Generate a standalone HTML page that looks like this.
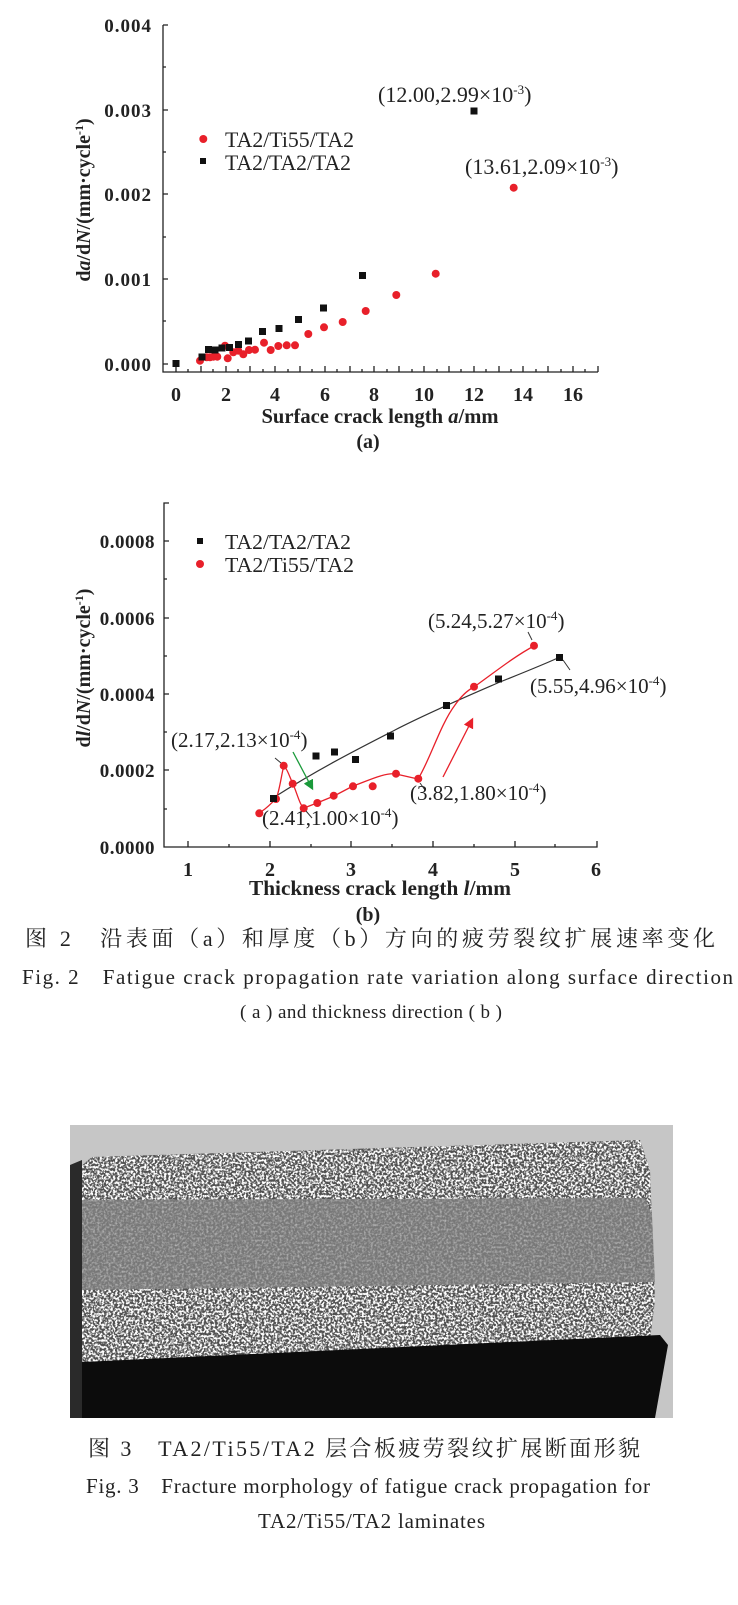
<!DOCTYPE html>
<html><head><meta charset="utf-8"><style>
html,body{margin:0;padding:0;background:#fff;}
body{width:738px;height:1605px;position:relative;overflow:hidden;}
svg{position:absolute;left:0;top:0;}
</style></head><body>
<svg width="738" height="1605" viewBox="0 0 738 1605" font-family="Liberation Serif, serif">
<defs>
<filter id="spk" x="0" y="0" width="100%" height="100%">
<feTurbulence type="fractalNoise" baseFrequency="0.45" numOctaves="2" seed="3"/>
<feColorMatrix type="matrix" values="0 0 0 0 1  0 0 0 0 1  0 0 0 0 1  0 0 0 -5 2.9"/>
<feComposite in2="SourceGraphic" operator="in"/>
</filter>
<filter id="spk2" x="0" y="0" width="100%" height="100%">
<feTurbulence type="fractalNoise" baseFrequency="0.45" numOctaves="2" seed="7"/>
<feColorMatrix type="matrix" values="0 0 0 0 1  0 0 0 0 1  0 0 0 0 1  0 0 0 -2 1.2"/>
<feComposite in2="SourceGraphic" operator="in"/>
</filter>
<marker id="ag" markerWidth="8" markerHeight="8" refX="6" refY="4" orient="auto"><path d="M0,0 L8,4 L0,8 z" fill="#1a9a3a"/></marker>
<marker id="ar" markerWidth="8" markerHeight="8" refX="6" refY="4" orient="auto"><path d="M0,0 L8,4 L0,8 z" fill="#e8202a"/></marker>
</defs>
<!-- Chart a -->
<g stroke="#222" stroke-width="1.3" fill="none">
<path d="M163,25 V372 H598"/>
<path d="M163,25 h5 M163,67 h3 M163,110 h5 M163,152 h3 M163,194 h5 M163,237 h3 M163,279 h5 M163,321 h3 M163,364 h5"/>
<path d="M176,372 v-6 M188,372 v-3 M201,372 v-6 M213,372 v-3 M226,372 v-6 M238,372 v-3 M250,372 v-6 M263,372 v-3 M275,372 v-6 M288,372 v-3 M300,372 v-6 M312,372 v-3 M325,372 v-6 M337,372 v-3 M350,372 v-6 M362,372 v-3 M374,372 v-6 M387,372 v-3 M399,372 v-6 M412,372 v-3 M424,372 v-6 M437,372 v-3 M449,372 v-6 M461,372 v-3 M474,372 v-6 M486,372 v-3 M499,372 v-6 M511,372 v-3 M523,372 v-6 M536,372 v-3 M548,372 v-6 M561,372 v-3 M573,372 v-6 M585,372 v-3 M598,372 v-6"/>
</g>
<g font-size="19" font-weight="bold" fill="#222" text-anchor="end" letter-spacing="1">
<text x="152" y="32">0.004</text><text x="152" y="117">0.003</text><text x="152" y="201">0.002</text><text x="152" y="286">0.001</text><text x="152" y="371">0.000</text>
</g>
<g font-size="20" font-weight="bold" fill="#222" text-anchor="middle">
<text x="176" y="401">0</text><text x="226" y="401">2</text><text x="275" y="401">4</text><text x="325" y="401">6</text><text x="374" y="401">8</text><text x="424" y="401">10</text><text x="474" y="401">12</text><text x="523" y="401">14</text><text x="573" y="401">16</text>
<text x="380" y="423" font-size="21" textLength="237" lengthAdjust="spacingAndGlyphs">Surface crack length <tspan font-style="italic">a</tspan>/mm</text>
<text x="368" y="448">(a)</text>
</g>
<text transform="translate(90,200) rotate(-90)" font-size="20" font-weight="bold" fill="#222" text-anchor="middle">d<tspan font-style="italic">a</tspan>/d<tspan font-style="italic">N</tspan>/(mm·cycle<tspan font-size="12" dy="-7">-1</tspan><tspan dy="7">)</tspan></text>
<g fill="#e8202a">
<circle cx="200" cy="360.7" r="4"/><circle cx="206.7" cy="357.3" r="4"/><circle cx="210" cy="357.3" r="4"/><circle cx="213.3" cy="356.7" r="4"/><circle cx="217.3" cy="356.7" r="4"/><circle cx="225" cy="345.7" r="4"/><circle cx="227.7" cy="358.3" r="4"/><circle cx="233.3" cy="352.3" r="4"/><circle cx="238.3" cy="350.7" r="4"/><circle cx="243.3" cy="354.3" r="4"/><circle cx="249" cy="350" r="4"/><circle cx="255" cy="349.7" r="4"/><circle cx="264" cy="342.7" r="4"/><circle cx="270.7" cy="350" r="4"/><circle cx="278.3" cy="346" r="4"/><circle cx="286.7" cy="345.3" r="4"/><circle cx="295" cy="345.3" r="4"/><circle cx="308.3" cy="334" r="4"/><circle cx="324" cy="327.3" r="4"/><circle cx="342.7" cy="322" r="4"/><circle cx="365.7" cy="311" r="4"/><circle cx="396.3" cy="295" r="4"/><circle cx="435.7" cy="273.7" r="4"/><circle cx="513.7" cy="187.7" r="4"/>
<circle cx="203.3" cy="139" r="4"/>
</g>
<g fill="#111">
<rect x="172.5" y="360" width="7" height="7"/><rect x="198.5" y="353.5" width="7" height="7"/><rect x="205" y="346" width="7" height="7"/><rect x="211.5" y="346.5" width="7" height="7"/><rect x="218.5" y="344.5" width="7" height="7"/><rect x="226" y="344" width="7" height="7"/><rect x="235" y="341" width="7" height="7"/><rect x="245" y="337.5" width="7" height="7"/><rect x="259" y="328" width="7" height="7"/><rect x="275.5" y="325" width="7" height="7"/><rect x="295" y="316" width="7" height="7"/><rect x="320" y="304.5" width="7" height="7"/><rect x="359" y="272" width="7" height="7"/><rect x="470.5" y="107.5" width="7" height="7"/>
<rect x="200" y="158" width="6" height="6"/>
</g>
<g font-size="22" fill="#222">
<text x="225" y="147" textLength="129" lengthAdjust="spacingAndGlyphs">TA2/Ti55/TA2</text><text x="225" y="170" textLength="126" lengthAdjust="spacingAndGlyphs">TA2/TA2/TA2</text>
<text x="378" y="102">(12.00,2.99×10<tspan font-size="13" dy="-8">-3</tspan><tspan dy="8">)</tspan></text>
<text x="465" y="174">(13.61,2.09×10<tspan font-size="13" dy="-8">-3</tspan><tspan dy="8">)</tspan></text>
</g>
<!-- Chart b -->
<g stroke="#222" stroke-width="1.3" fill="none">
<path d="M169,503 h-5 V847 H597 v-6"/>
<path d="M164,541 h5 M164,579 h3 M164,618 h5 M164,656 h3 M164,694 h5 M164,732 h3 M164,770 h5 M164,809 h3"/>
<path d="M188,847 v-6 M229,847 v-3 M270,847 v-6 M311,847 v-3 M351,847 v-6 M392,847 v-3 M433,847 v-6 M474,847 v-3 M515,847 v-6 M555,847 v-3"/>
</g>
<g font-size="19" font-weight="bold" fill="#222" text-anchor="end" letter-spacing="0.5">
<text x="155" y="548">0.0008</text><text x="155" y="625">0.0006</text><text x="155" y="701">0.0004</text><text x="155" y="777">0.0002</text><text x="155" y="854">0.0000</text>
</g>
<g font-size="20" font-weight="bold" fill="#222" text-anchor="middle">
<text x="188" y="876">1</text><text x="270" y="876">2</text><text x="351" y="876">3</text><text x="433" y="876">4</text><text x="515" y="876">5</text><text x="596" y="876">6</text>
<text x="380" y="895" font-size="21" textLength="262" lengthAdjust="spacingAndGlyphs">Thickness crack length <tspan font-style="italic">l</tspan>/mm</text>
<text x="368" y="921">(b)</text>
</g>
<text transform="translate(90,668) rotate(-90)" font-size="20" font-weight="bold" fill="#222" text-anchor="middle">d<tspan font-style="italic">l</tspan>/d<tspan font-style="italic">N</tspan>/(mm·cycle<tspan font-size="12" dy="-7">-1</tspan><tspan dy="7">)</tspan></text>
<path d="M273,798 C320,768 360,748 395,730 C430,712 470,695 500,682 C525,672 545,664 560,657" stroke="#333" stroke-width="1.2" fill="none"/>
<path d="M259,813 C268,808 272,802 276,799 C280,790 282,770 284,766 C287,768 290,778 293,784 C297,793 300,806 304,808 L317,803 L334,796 L353,786 C365,782 385,772 396,774 L418,779 C430,760 440,725 455,705 C462,695 468,690 474,687 C495,672 515,656 534,646" stroke="#e8202a" stroke-width="1.3" fill="none"/>
<g fill="#e8202a">
<circle cx="259.3" cy="813.3" r="4"/><circle cx="276" cy="799" r="4"/><circle cx="283.7" cy="765.7" r="4"/><circle cx="292.7" cy="783.7" r="4"/><circle cx="303.7" cy="808.3" r="4"/><circle cx="317.3" cy="803" r="4"/><circle cx="333.7" cy="795.7" r="4"/><circle cx="353" cy="786.3" r="4"/><circle cx="372.7" cy="786.3" r="4"/><circle cx="396" cy="773.7" r="4"/><circle cx="418.3" cy="778.7" r="4"/><circle cx="474" cy="686.7" r="4"/><circle cx="534" cy="645.7" r="4"/>
<circle cx="200" cy="564" r="4"/>
</g>
<g fill="#111">
<rect x="270" y="795" width="7" height="7"/><rect x="312.5" y="752.5" width="7" height="7"/><rect x="331" y="748.5" width="7" height="7"/><rect x="352" y="756" width="7" height="7"/><rect x="387" y="732.5" width="7" height="7"/><rect x="443" y="702" width="7" height="7"/><rect x="495" y="675.5" width="7" height="7"/><rect x="556" y="654" width="7" height="7"/>
<rect x="197" y="538" width="6" height="6"/>
</g>
<path d="M293,752 L312,788" stroke="#1a9a3a" stroke-width="1.3" marker-end="url(#ag)"/>
<path d="M443,777 L472,720" stroke="#e8202a" stroke-width="1.3" marker-end="url(#ar)"/>
<g stroke="#333" stroke-width="1" fill="none">
<path d="M528,632 L532,640"/><path d="M563,660 L570,670"/><path d="M275,758 L281,763"/><path d="M306,811 L312,818"/><path d="M420,783 L425,790"/>
</g>
<g font-size="21" fill="#222">
<text x="225" y="549" textLength="126" lengthAdjust="spacingAndGlyphs">TA2/TA2/TA2</text><text x="225" y="572" textLength="129" lengthAdjust="spacingAndGlyphs">TA2/Ti55/TA2</text>
<text x="428" y="628">(5.24,5.27×10<tspan font-size="13" dy="-8">-4</tspan><tspan dy="8">)</tspan></text>
<text x="530" y="693">(5.55,4.96×10<tspan font-size="13" dy="-8">-4</tspan><tspan dy="8">)</tspan></text>
<text x="171" y="747">(2.17,2.13×10<tspan font-size="13" dy="-8">-4</tspan><tspan dy="8">)</tspan></text>
<text x="410" y="800">(3.82,1.80×10<tspan font-size="13" dy="-8">-4</tspan><tspan dy="8">)</tspan></text>
<text x="262" y="825">(2.41,1.00×10<tspan font-size="13" dy="-8">-4</tspan><tspan dy="8">)</tspan></text>
</g>
<!-- Captions -->
<g font-family="Liberation Serif, Noto Serif CJK SC, serif" fill="#222">
<text x="25" y="946" font-size="22" textLength="690" lengthAdjust="spacing">图 2　沿表面（a）和厚度（b）方向的疲劳裂纹扩展速率变化</text>
<text x="22" y="984" font-size="21" textLength="711" lengthAdjust="spacing">Fig. 2　Fatigue crack propagation rate variation along surface direction</text>
<text x="240" y="1018" font-size="19" textLength="262" lengthAdjust="spacing">( a ) and thickness direction ( b )</text>
<text x="88" y="1456" font-size="22" textLength="552" lengthAdjust="spacing">图 3　TA2/Ti55/TA2 层合板疲劳裂纹扩展断面形貌</text>
<text x="86" y="1493" font-size="21" textLength="564" lengthAdjust="spacing">Fig. 3　Fracture morphology of fatigue crack propagation for</text>
<text x="258" y="1528" font-size="21" textLength="227" lengthAdjust="spacing">TA2/Ti55/TA2 laminates</text>
</g>
<!-- Photo -->
<rect x="70" y="1125" width="603" height="293" fill="#c6c6c6"/>
<polygon points="82,1165 92,1157 640,1140 650,1170 655,1300 650,1340 82,1365" fill="#505050"/>
<polygon points="82,1165 92,1157 640,1140 650,1170 655,1300 650,1340 82,1365" fill="#f0f0f0" filter="url(#spk)"/>
<polygon points="82,1200 645,1198 652,1215 655,1282 82,1290" fill="#777"/>
<polygon points="82,1200 645,1198 652,1215 655,1282 82,1290" fill="#fff" filter="url(#spk2)" opacity="0.5"/>
<polygon points="70,1165 82,1160 82,1418 70,1418" fill="#2a2a2a"/>
<polygon points="82,1362 660,1335 668,1345 655,1418 82,1418" fill="#0c0c0c"/>
</svg>
</body></html>
